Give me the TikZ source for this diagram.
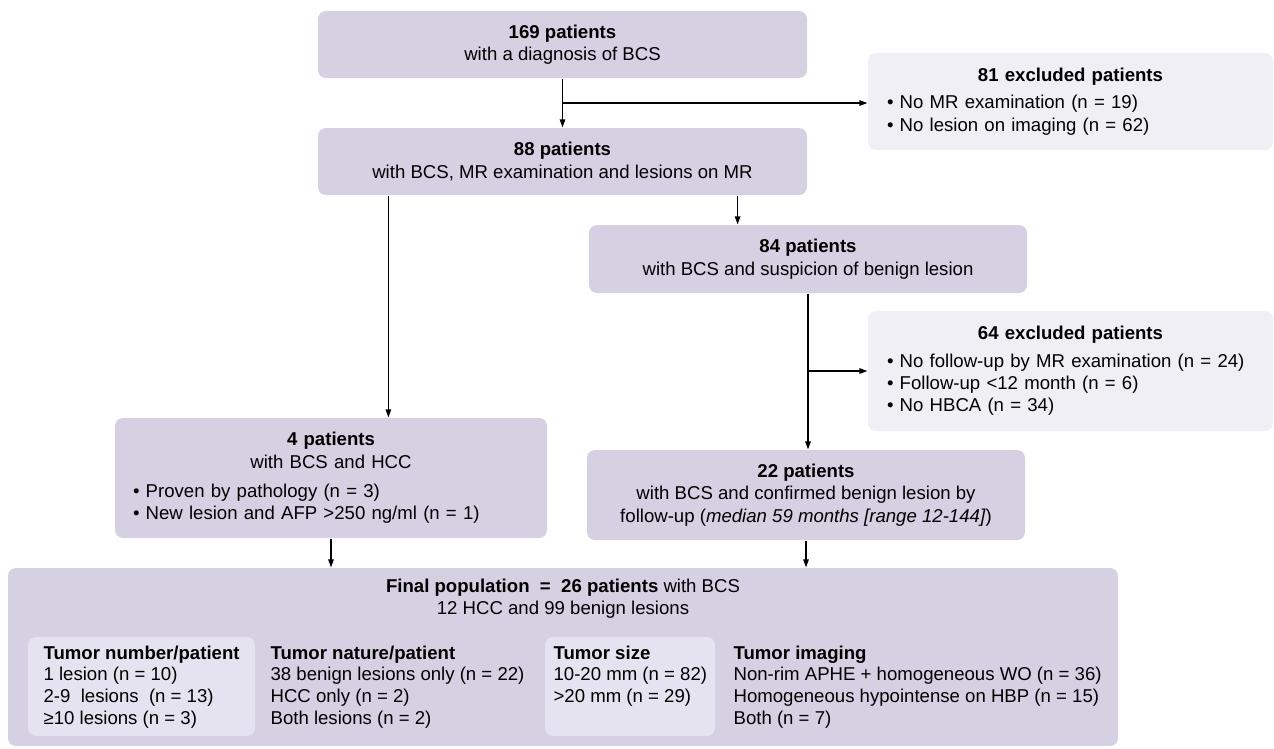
\documentclass[tikz,border=0pt]{standalone}
\usepackage{fontspec}
\setmainfont{Liberation Sans}
\usetikzlibrary{arrows.meta,positioning,calc}
\definecolor{stagefill}{RGB}{213,208,226}
\definecolor{exclfill}{RGB}{240,239,245}
\definecolor{subfill}{RGB}{229,227,239}

\begin{document}
\begin{tikzpicture}[x=1pt,y=-1pt,>={Triangle[length=8pt,width=5.5pt]},
  font=\fontsize{18.6}{22.4}\selectfont,line width=1.2pt,
  stage/.style={fill=stagefill,rounded corners=8pt,minimum height=67pt,align=center,inner sep=0pt},
  excl/.style={fill=exclfill,rounded corners=8pt,text width=367pt,inner xsep=19pt,inner ysep=0pt,align=left},
  sub/.style={fill=subfill,rounded corners=8pt,minimum height=99pt,inner sep=0pt},
  col/.style={anchor=north west,align=left,inner sep=0pt,font=\fontsize{18.6}{21.8}\selectfont}]
\useasboundingbox (0,0) rectangle (1274,748);
\node[stage,minimum width=489pt] (A) at (562.5,44.5) {\textbf{169 patients}\\with a diagnosis of BCS};
\node[stage,minimum width=489pt] (B) at (562.5,161.5) {\textbf{88 patients}\\with BCS, MR examination and lesions on MR};
\node[excl,minimum height=97pt] (X1) at (1070.5,101.5) {{\centering\textbf{81 excluded patients}\par}\vspace{5pt}%
  • No MR examination (n = 19)\\• No lesion on imaging (n = 62)};
\node[stage,minimum width=438pt,minimum height=68pt] (D) at (808,259) {\textbf{84 patients}\\with BCS and suspicion of benign lesion};
\node[excl,minimum height=120pt] (X2) at (1070.5,371) {{\centering\textbf{64 excluded patients}\par}\vspace{5pt}%
  • No follow-up by MR examination (n = 24)\\• Follow-up <12 month (n = 6)\\• No HBCA (n = 34)};
\node[excl,fill=stagefill,text width=396pt,inner xsep=18pt,minimum height=120pt] (C) at (331,478) {{\centering\textbf{4 patients}\\with BCS and HCC\par}\vspace{7pt}%
  • Proven by pathology (n = 3)\\• New lesion and AFP >250 ng/ml (n = 1)};
\node[stage,minimum width=438pt,minimum height=90pt] (E) at (806,495) {\textbf{22 patients}\\with BCS and confirmed benign lesion by\\follow-up (\textit{median 59 months [range 12-144]})};
\node[stage,minimum width=1110pt,minimum height=178pt] (F) at (563,657) {};
\node[align=center,inner sep=0pt] (ftitle) at (563,598.5) {\textbf{Final population\ \ =\ \ 26 patients} with BCS\\12 HCC and 99 benign lesions};
\node[sub,minimum width=227pt] (snum) at (141.5,686.5) {};
\node[sub,minimum width=170pt] (ssize) at (630,686.5) {};
\node[col] (cnum) at (43,645) {\textbf{Tumor number/patient}\\1 lesion (n = 10)\\2-9\ \ lesions\ \ (n = 13)\\≥10 lesions (n = 3)};
\node[col] (cnat) at (270,645) {\textbf{Tumor nature/patient}\\38 benign lesions only (n = 22)\\HCC only (n = 2)\\Both lesions (n = 2)};
\node[col] (csize) at (553,645) {\textbf{Tumor size}\\10-20 mm (n = 82)\\>20 mm (n = 29)};
\node[col] (cimg) at (733,645) {\textbf{Tumor imaging}\\Non-rim APHE + homogeneous WO (n = 36)\\Homogeneous hypointense on HBP (n = 15)\\Both (n = 7)};
\coordinate (j1) at (562.5,103);
\coordinate (bc) at ([xshift=71pt]B.south west);
\coordinate (bd) at ([xshift=-70pt]B.south east);
\coordinate (j2) at (808,371);
\draw[->] (A) -- (B);
\draw[->] (j1) -- (j1 -| X1.west);
\draw[->] (bc) -- (bc |- C.north);
\draw[->] (bd) -- (bd |- D.north);
\draw[->] (D.south) -- (D.south |- E.north);
\draw[->] (j2) -- (j2 -| X2.west);
\draw[->] (C.south) -- (C.south |- F.north);
\draw[->] (E.south) -- (E.south |- F.north);
\end{tikzpicture}
\end{document}
